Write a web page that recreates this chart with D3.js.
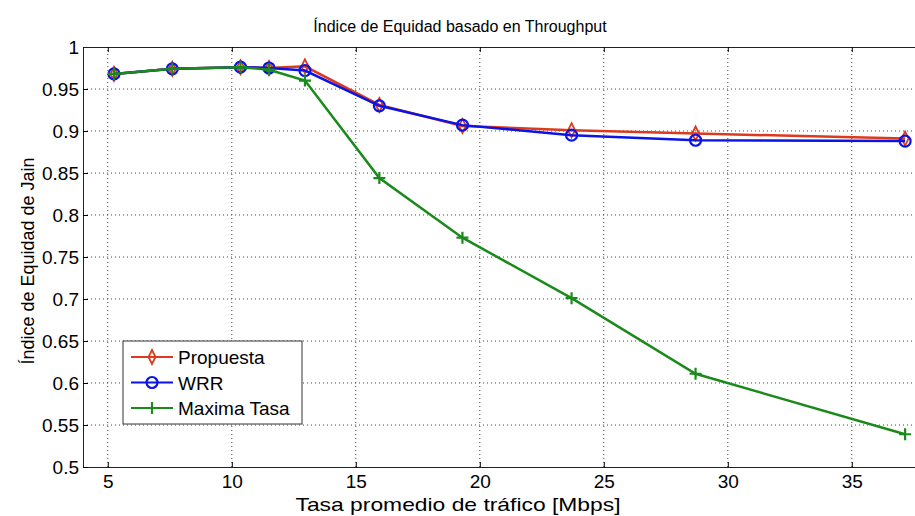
<!DOCTYPE html>
<html>
<head>
<meta charset="utf-8">
<script src="https://cdn.jsdelivr.net/npm/d3@7"></script>
<style>
  body { margin: 0; background: #fff; }
  svg { font-family: "Liberation Sans", Arial, sans-serif; }
</style>
</head>
<body>
<div id="vis"></div>
<script>
// data
const rates = [5.25, 7.6, 10.35, 11.5, 12.95, 15.95, 19.3, 23.7, 28.7, 37.15];
const propuesta = [0.968, 0.974, 0.976, 0.975, 0.977, 0.931, 0.906, 0.901, 0.897, 0.891];
const wrr = [0.968, 0.974, 0.976, 0.975, 0.972, 0.930, 0.907, 0.895, 0.889, 0.888];
const maximaTasa = [0.968, 0.974, 0.976, 0.973, 0.960, 0.844, 0.773, 0.701, 0.611, 0.539];
const xTicks = [5, 10, 15, 20, 25, 30, 35];
const yTicks = [0.5, 0.55, 0.6, 0.65, 0.7, 0.75, 0.8, 0.85, 0.9, 0.95, 1];

const width = 915, height = 516;
const margin = { top: 47, left: 83, bottom: 49 };
const plotH = height - margin.top - margin.bottom;

const $svg = d3.select('#vis').append('svg')
  .attr('width', width)
  .attr('height', height);

const x = d3.scaleLinear().domain([4, 40]).range([margin.left, margin.left + 36 * 24.8]);
const y = d3.scaleLinear().domain([0.5, 1]).range([margin.top + plotH, margin.top]);
const xRight = x.range()[1];

// grid (dotted)
const $grid = $svg.append('g').attr('class', 'grid');
$grid.selectAll('.gx').data(xTicks).enter().append('line')
  .attr('x1', d => x(d)).attr('x2', d => x(d))
  .attr('y1', y(0.5)).attr('y2', y(1))
  .attr('stroke', '#444').attr('stroke-width', 1)
  .attr('stroke-dasharray', '1,3');
$grid.selectAll('.gy').data(yTicks.slice(1, -1)).enter().append('line')
  .attr('x1', x(4)).attr('x2', xRight)
  .attr('y1', d => y(d)).attr('y2', d => y(d))
  .attr('stroke', '#444').attr('stroke-width', 1)
  .attr('stroke-dasharray', '1,3');

// axes (MATLAB style: ticks inward)
const xAxis = d3.axisBottom(x).tickValues(xTicks).tickSizeInner(-5).tickSizeOuter(0).tickPadding(8);
const yAxis = d3.axisLeft(y).tickValues(yTicks).tickSizeInner(-5).tickSizeOuter(0).tickPadding(4)
  .tickFormat(d => d3.format('')(+d.toFixed(2)));

$svg.append('g')
  .attr('transform', `translate(0, ${y(0.5)})`)
  .call(xAxis)
  .call(g => g.selectAll('text').attr('font-size', 19).attr('fill', '#000'))
  .call(g => g.select('.domain').attr('stroke', '#222'));

$svg.append('g')
  .attr('transform', `translate(${x(4)}, 0)`)
  .call(yAxis)
  .call(g => g.selectAll('text').attr('font-size', 19).attr('fill', '#000'))
  .call(g => g.select('.domain').attr('stroke', '#222'));

// top border with ticks
$svg.append('g')
  .attr('transform', `translate(0, ${y(1)})`)
  .call(d3.axisTop(x).tickValues(xTicks).tickSizeInner(-5).tickSizeOuter(0).tickFormat(''))
  .call(g => g.select('.domain').attr('stroke', '#222'));

// series
const series = [
  { name: 'Propuesta', values: propuesta, colour: '#dc3a1c', marker: 'diamond' },
  { name: 'WRR', values: wrr, colour: '#0a14e6', marker: 'circle' },
  { name: 'Maxima Tasa', values: maximaTasa, colour: '#1a8a1a', marker: 'plus' }
];

const line = d3.line().x(d => x(d[0])).y(d => y(d[1]));

function drawMarker(g, type, colour) {
  if (type === 'diamond') {
    g.append('path').attr('d', 'M0,-7L3.5,0L0,7L-3.5,0Z')
      .attr('fill', 'none').attr('stroke', colour).attr('stroke-width', 1.8);
  } else if (type === 'circle') {
    g.append('circle').attr('r', 5.5)
      .attr('fill', 'none').attr('stroke', colour).attr('stroke-width', 2.2);
  } else {
    g.append('path').attr('d', 'M-6,0H6M0,-6V6')
      .attr('fill', 'none').attr('stroke', colour).attr('stroke-width', 2.2);
  }
}

series.forEach(s => {
  const pts = rates.map((r, i) => [r, s.values[i]]);
  $svg.append('path')
    .datum(pts)
    .attr('d', line)
    .attr('fill', 'none')
    .attr('stroke', s.colour)
    .attr('stroke-width', 2.5);
  pts.forEach(p => {
    const g = $svg.append('g').attr('transform', `translate(${x(p[0])}, ${y(p[1])})`);
    drawMarker(g, s.marker, s.colour);
  });
});

// legend
const $legend = $svg.append('g').attr('transform', 'translate(123, 341)');
$legend.append('rect')
  .attr('width', 179).attr('height', 83)
  .attr('fill', '#fff').attr('stroke', '#333').attr('stroke-width', 1);
series.forEach((s, i) => {
  const ly = 16 + i * 25.5;
  $legend.append('line')
    .attr('x1', 8).attr('x2', 50).attr('y1', ly).attr('y2', ly)
    .attr('stroke', s.colour).attr('stroke-width', 2);
  const g = $legend.append('g').attr('transform', `translate(29, ${ly})`);
  drawMarker(g, s.marker, s.colour);
  $legend.append('text')
    .attr('x', 55).attr('y', ly + 7)
    .attr('font-size', 19)
    .text(s.name);
});

// titles
$svg.append('text')
  .attr('x', 460).attr('y', 32)
  .attr('text-anchor', 'middle')
  .attr('font-size', 16)
  .text('Índice de Equidad basado en Throughput');

$svg.append('text')
  .attr('x', 458).attr('y', 511)
  .attr('text-anchor', 'middle')
  .attr('font-size', 19)
  .attr('textLength', 325)
  .attr('lengthAdjust', 'spacingAndGlyphs')
  .text('Tasa promedio de tráfico [Mbps]');

$svg.append('text')
  .attr('transform', `translate(34, 261) rotate(-90)`)
  .attr('text-anchor', 'middle')
  .attr('font-size', 18)
  .text('Índice de Equidad de Jain');
</script>
</body>
</html>
